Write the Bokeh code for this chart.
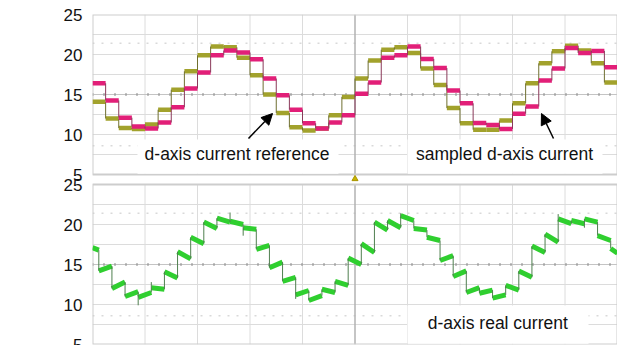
from bokeh.plotting import figure
from bokeh.models import Range1d, FixedTicker, Span, Label, Arrow, NormalHead
from bokeh.embed import file_html
from bokeh.resources import INLINE

# ---------------- data (time in oscilloscope divisions, current in A) ----------------
step_width = 0.25  # divisions per control step
# d-axis current reference (olive), one level per step
ref_levels = [14.1, 12.0, 10.8, 10.7, 11.25, 13.1, 15.6, 17.9, 19.9, 21.0,
              20.9, 19.6, 17.4, 15.0, 12.7, 10.9, 10.5, 10.75, 12.4, 14.7,
              17.0, 19.25, 20.6, 20.9, 20.2, 18.25, 16.2, 13.3, 11.4, 10.6,
              10.6, 11.75, 13.9, 16.4, 18.9, 20.4, 21.1, 20.5, 18.9, 16.5]
# sampled d-axis current (magenta)
sam_levels = [16.4, 14.25, 12.1, 11.0, 10.75, 11.5, 13.4, 15.75, 17.75, 19.9,
              20.5, 20.25, 19.4, 17.0, 14.9, 13.1, 11.4, 10.75, 11.5, 12.4,
              15.1, 16.5, 19.6, 19.9, 21.0, 19.45, 18.3, 15.5, 13.9, 11.45,
              11.2, 10.7, 12.6, 13.5, 16.75, 18.25, 20.8, 20.2, 20.45, 18.4]
# d-axis real current (green): value at start / end of each step segment
real_offset = 0.12
real_start = [17.1, 14.2, 12.0, 11.0, 10.9, 12.1, 14.1, 16.6, 18.4, 20.3,
              20.8, 20.4, 19.6, 16.9, 14.6, 12.9, 11.2, 10.5, 11.9, 12.9,
              15.8, 17.6, 20.3, 20.5, 21.1, 19.5, 18.4, 15.5, 13.5, 11.5,
              11.4, 10.8, 12.4, 14.2, 17.3, 18.8, 20.7, 20.5, 20.7, 18.6, 17.0]
real_end = [16.8, 14.8, 12.8, 11.6, 11.5, 11.9, 13.3, 15.7, 17.6, 19.5,
            20.3, 20.0, 19.4, 17.4, 15.3, 13.4, 11.75, 11.1, 11.5, 12.4,
            15.0, 16.5, 19.3, 19.6, 20.5, 19.3, 18.0, 16.1, 14.2, 12.1,
            11.8, 11.2, 11.8, 13.4, 16.5, 17.8, 20.1, 20.1, 20.3, 18.0, 16.4]
real_spike = [None, None, None, None, 9.9, 12.8, None, None, None, None,
              None, 21.5, 18.6, None, None, None, 10.7, None, None, None,
              None, None, None, None, 21.4, None, None, None, None, None,
              None, None, None, None, None, None, 21.3, None, 19.6, None, None]

y_ticks = [5, 10, 15, 20, 25]
y_tick_labels = ["5", "10", "15", "20", "25"]
grid_y = [7.5, 10, 12.5, 17.5, 20, 22.5]
grid_x = [1, 2, 3, 4, 6, 7, 8, 9]
dotted_y = [21.4, 8.6]
y_min, y_max = 5, 25
x_min, x_max = 0, 10

# two stacked scope panels share one canvas: the lower panel is shifted by this many A
panel_shift = 21.25

FONT = "Liberation Sans"
OLIVE = "#a2a22c"
MAGENTA = "#e21f78"
GREEN = "#2fcf2f"
GRID = "#dcdcdc"

p = figure(width=617, height=345, output_backend="svg", toolbar_location=None,
           x_range=Range1d(x_min, x_max), y_range=Range1d(y_min - 1.0625 * (y_max - y_min) + 0.0, y_max),
           x_axis_type=None, min_border_left=92, min_border_right=0, min_border_top=14,
           min_border_bottom=1, background_fill_color="white", border_fill_color="white",
           outline_line_color=None)
p.y_range.start = y_max - 41.25
p.extra_y_ranges = {"lo": Range1d(y_max - 41.25 + panel_shift, y_max + panel_shift)}
p.grid.visible = False

ax = p.yaxis[0]
all_ticks = y_ticks + [t - panel_shift for t in y_ticks]
ax.ticker = FixedTicker(ticks=all_ticks)
ax.major_label_overrides = {float(t): lab for t, lab in zip(all_ticks, y_tick_labels + y_tick_labels)}
ax.axis_line_color = None
ax.major_tick_line_color = None
ax.minor_tick_line_color = None
ax.major_tick_out = 0
ax.major_tick_in = 0
ax.major_label_standoff = 10
ax.major_label_text_font = FONT
ax.major_label_text_font_size = "17px"
ax.major_label_text_color = "#111111"


def panel_frame(rn):
    kw = {} if rn is None else {"y_range_name": rn}
    p.segment(x0=[x_min] * len(grid_y), x1=[x_max] * len(grid_y), y0=grid_y, y1=grid_y,
              line_color=GRID, line_width=1, **kw)
    p.segment(x0=grid_x, x1=grid_x, y0=[y_min] * len(grid_x), y1=[y_max] * len(grid_x),
              line_color=GRID, line_width=1, **kw)
    p.segment(x0=[x_min] * 2, x1=[x_max] * 2, y0=dotted_y, y1=dotted_y,
              line_color="#d9d9d9", line_width=1.5, line_dash="2 7", **kw)
    p.segment(x0=[x_min], x1=[x_max], y0=[15], y1=[15], line_color="#c4c4c4", line_width=1, **kw)
    p.segment(x0=[x_min], x1=[x_max], y0=[15], y1=[15], line_color="#8a8a8a", line_width=3,
              line_dash="1 10", **kw)
    p.segment(x0=[5], x1=[5], y0=[y_min], y1=[y_max], line_color="#b2b2b2", line_width=1.5, **kw)
    p.quad(left=[x_min], right=[x_max], bottom=[y_min], top=[y_max], fill_color=None,
           line_color="#cdcdcd", line_width=2, **kw)
    lab_kw = {} if rn is None else {"y_range_name": rn}
    p.add_layout(Label(x=-1.238, y=15, text="[A]", text_align="left", text_baseline="middle",
                       text_font=FONT, text_font_size="17px", text_color="#111111", **lab_kw))


def draw_steps(levels, color, edge_color):
    edges = [step_width * k for k in range(len(levels) + 1)]
    p.segment(x0=edges[:-1], y0=levels, x1=edges[1:], y1=levels,
              line_color=color, line_width=4.5)
    p.segment(x0=edges[1:-1], y0=levels[:-1], x1=edges[1:-1], y1=levels[1:],
              line_color=edge_color, line_width=1)


# ---------------- top panel ----------------
panel_frame(None)
p.quad(left=[0.857, 6.0], right=[4.686, 9.714], bottom=[5.1, 5.1], top=[9.375, 9.375],
       fill_color="white", line_color=None)
draw_steps(ref_levels, OLIVE, "#6f6f30")
draw_steps(sam_levels, MAGENTA, "#8a3a5a")
p.add_layout(Label(x=2.752, y=7.625, text="d-axis current reference", text_align="center",
                   text_baseline="middle", text_font=FONT, text_font_size="17.5px",
                   text_color="#111111"))
p.add_layout(Label(x=7.848, y=7.625, text="sampled d-axis current", text_align="center",
                   text_baseline="middle", text_font=FONT, text_font_size="17.5px",
                   text_color="#111111"))
p.add_layout(Arrow(end=NormalHead(size=11, fill_color="black", line_color="black"),
                   x_start=2.971, y_start=9.5, x_end=3.429, y_end=12.625,
                   line_color="black", line_width=1.5))
p.add_layout(Arrow(end=NormalHead(size=11, fill_color="black", line_color="black"),
                   x_start=8.781, y_start=9.5, x_end=8.552, y_end=12.625,
                   line_color="black", line_width=1.5))
# trigger marker between the panels
p.scatter(x=[5], y=[4.45], marker="triangle", size=6, fill_color="#c8b400", line_color="#a89400")

# ---------------- bottom panel ----------------
panel_frame("lo")
p.quad(left=[6.0], right=[9.448], bottom=[5.1], top=[9.875], fill_color="white", line_color=None,
       y_range_name="lo")
g_edges = [0.0] + [real_offset + step_width * k for k in range(len(real_start) - 1)] + [10.0]
p.segment(x0=g_edges[:-1], y0=real_start, x1=g_edges[1:], y1=real_end,
          line_color=GREEN, line_width=5, y_range_name="lo")
t_x, t_lo, t_hi = [], [], []
for k in range(1, len(real_start)):
    vals = [real_end[k - 1], real_start[k]]
    if real_spike[k] is not None:
        vals.append(real_spike[k])
    t_x.append(g_edges[k])
    t_lo.append(min(vals))
    t_hi.append(max(vals))
p.segment(x0=t_x, y0=t_lo, x1=t_x, y1=t_hi, line_color="#4f7f4f", line_width=1, y_range_name="lo")
p.add_layout(Label(x=7.72, y=7.75, text="d-axis real current", text_align="center",
                   text_baseline="middle", text_font=FONT, text_font_size="17.5px",
                   text_color="#111111", y_range_name="lo"))

open("out.html", "w").write(file_html(p, INLINE))
